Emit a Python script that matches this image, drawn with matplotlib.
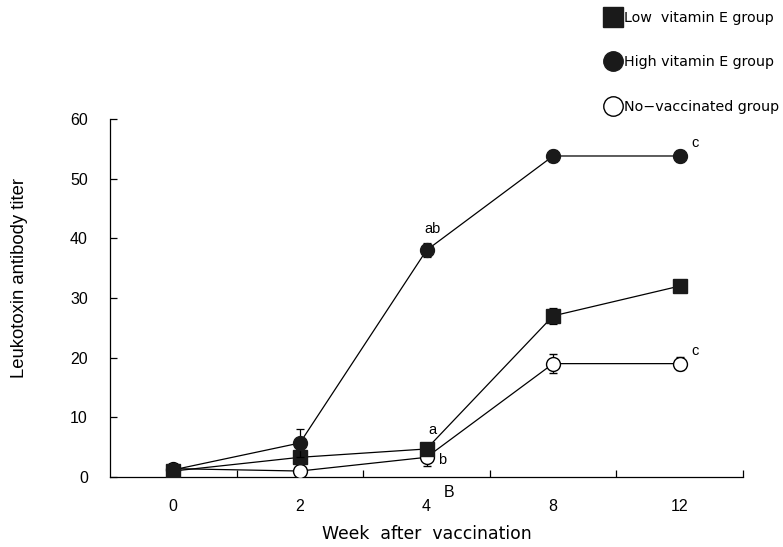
import matplotlib
matplotlib.use("Agg")

import numpy as np
import matplotlib.pyplot as plt
from matplotlib.lines import Line2D

plt.rcParams["font.family"] = ["Liberation Sans", "DejaVu Sans"]

# ── data ─────────────────────────────────────────────────────────────────────
weeks = ["0", "2", "4", "8", "12"]
low_vitE = [1.0, 3.3, 4.7, 27.0, 32.0]
low_err = [0.6, 0.6, 0.8, 1.3, 0.5]
high_vitE = [1.2, 5.7, 38.0, 53.8, 53.8]
high_err = [0.6, 2.3, 1.2, 1.0, 1.0]
no_vacc = [1.4, 1.0, 3.3, 19.0, 19.0]
no_err = [0.8, 0.3, 1.5, 1.6, 1.1]

letters = [  # (series, index, text, dx, dy)
    ("high", 2, "ab", 0.05, 3.6),
    ("low", 2, "a", 0.05, 3.2),
    ("none", 2, "b", 0.12, -0.5),
    ("high", 4, "c", 0.12, 2.2),
    ("none", 4, "c", 0.12, 2.2),
]

series = {"low": low_vitE, "high": high_vitE, "none": no_vacc}

x = np.arange(len(weeks)) + 0.5

fig = plt.figure(figsize=(7.83, 5.47), dpi=100)
ax = fig.add_axes([110 / 783, 70 / 547, 633 / 783, 358 / 547])

ekw = dict(color="black", lw=0.9, capsize=3, elinewidth=0.9, capthick=0.9, ms=10)
ax.errorbar(x, no_vacc, yerr=no_err, marker="o", mfc="white", mec="black",
            mew=1.0, zorder=3, **ekw)
ax.errorbar(x, low_vitE, yerr=low_err, marker="s", mfc="#1a1a1a", mec="#1a1a1a",
            zorder=4, **ekw)
ax.errorbar(x, high_vitE, yerr=high_err, marker="o", mfc="#1a1a1a", mec="#1a1a1a",
            zorder=5, **ekw)

for key, i, txt, dx, dy in letters:
    ax.text(x[i] + dx, series[key][i] + dy, txt, fontsize=10.5, ha="center", va="center")

ax.set_xlim(0, 5)
ax.set_ylim(0, 60)
ax.set_yticks(range(0, 61, 10))
ax.set_xticks([1, 2, 3, 4, 5])
ax.set_xticklabels([])
ax.set_xticks(x, minor=True)
ax.set_xticklabels(weeks, minor=True)
ax.tick_params(axis="both", which="major", direction="in", length=5, width=0.9,
               labelsize=11.5)
ax.tick_params(axis="x", which="minor", length=0, pad=16, labelsize=11.5)
ax.tick_params(axis="y", pad=16)
for side in ("top", "right"):
    ax.spines[side].set_visible(False)
for side in ("left", "bottom"):
    ax.spines[side].set_linewidth(0.9)

ax.text(2.68, -2.6, "B", fontsize=11.5, ha="center", va="center")
fig.text(427 / 783, 1 - 534 / 547, "Week  after  vaccination", fontsize=12.4,
         family="DejaVu Sans", ha="center", va="center")
fig.text(20 / 783, 1 - 278 / 547, "Leukotoxin antibody titer", fontsize=13.3,
         rotation=90, ha="center", va="center")

handles = [
    Line2D([], [], ls="none", marker="s", ms=14, mfc="#1a1a1a", mec="#1a1a1a"),
    Line2D([], [], ls="none", marker="o", ms=14, mfc="#1a1a1a", mec="#1a1a1a"),
    Line2D([], [], ls="none", marker="o", ms=14, mfc="white", mec="black", mew=1.0),
]
fig.legend(handles, ["Low  vitamin E group", "High vitamin E group",
                     "No\u2212vaccinated group"],
           loc="upper left", bbox_to_anchor=(600 / 783, 1 - 5 / 547),
           frameon=False, prop={"family": "DejaVu Sans", "size": 10.3},
           handlelength=0.95, handletextpad=0.3, labelspacing=2.15,
           borderaxespad=0)

fig.savefig("out.png", dpi=100)
